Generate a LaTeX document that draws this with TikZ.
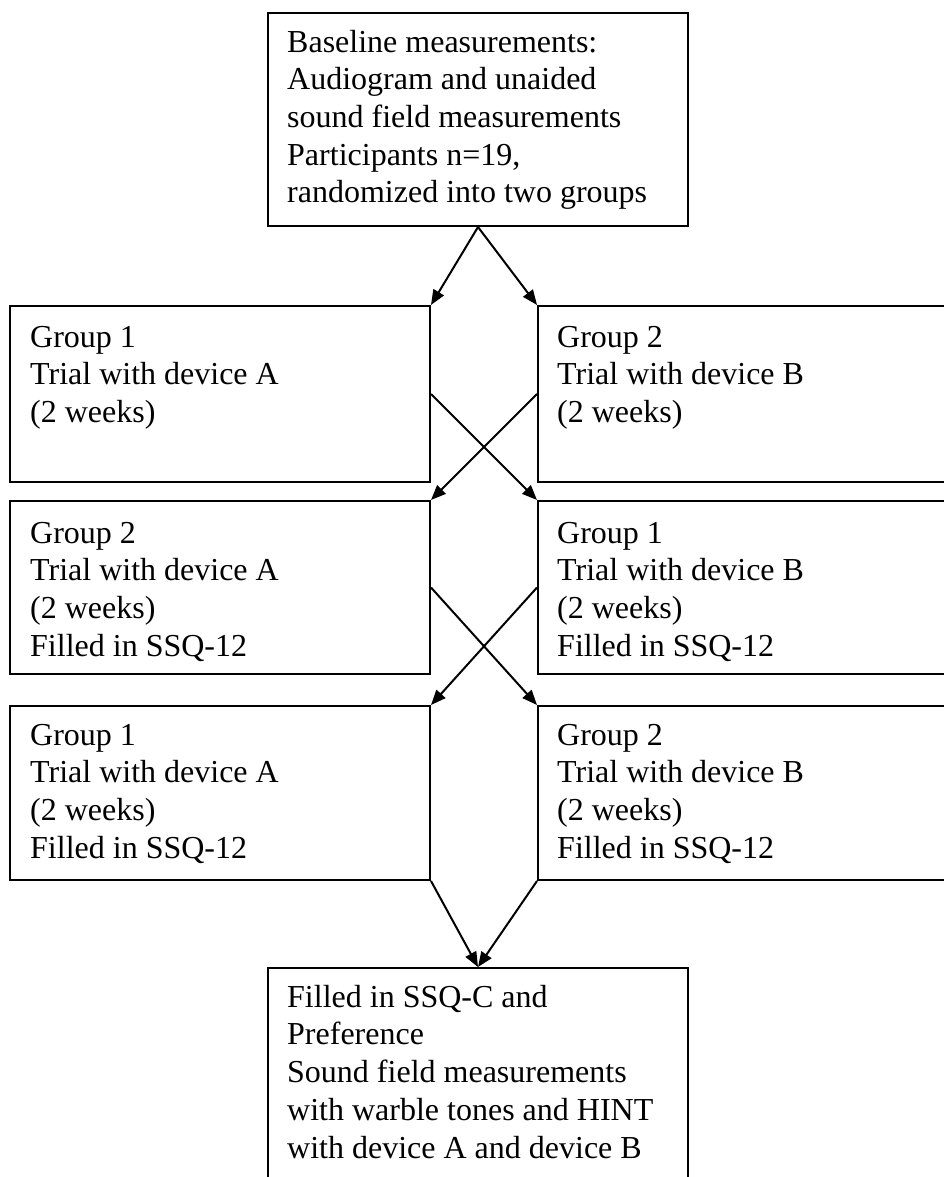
\documentclass[tikz,border=0pt]{standalone}
\usepackage{fontspec}
\setmainfont{Liberation Serif}
\usetikzlibrary{arrows.meta}
\begin{document}
\begin{tikzpicture}[x=1pt,y=-1pt,
  box/.style={draw=black, line width=2pt, rectangle, inner sep=0pt, anchor=north west},
  txt/.style={anchor=north west, inner sep=0pt, align=left, font=\fontsize{32}{37.7}\selectfont},
  arr/.style={draw=black, line width=2pt, -{Triangle[length=15pt,width=12pt]}}]
\fill[white] (0,0) rectangle (944,1177);
\useasboundingbox (0,0) rectangle (944,1177);
% boxes
\node[box, minimum width=420pt, minimum height=213pt] (top) at (267,12) {};
\node[box, minimum width=420pt, minimum height=176pt] (L1) at (9,305) {};
\node[box, minimum width=430pt, minimum height=176pt] (R1) at (537,305) {};
\node[box, minimum width=420pt, minimum height=173pt] (L2) at (9,500) {};
\node[box, minimum width=430pt, minimum height=173pt] (R2) at (537,500) {};
\node[box, minimum width=420pt, minimum height=174pt] (L3) at (9,705) {};
\node[box, minimum width=430pt, minimum height=174pt] (R3) at (537,705) {};
\node[box, minimum width=420pt, minimum height=230pt] (bot) at (267,967) {};
% texts
\node[txt] (ttop) at (287,25.6) {\strut Baseline measurements:\\Audiogram and unaided\\sound field measurements\\Participants n=19,\\randomized into two groups};
\node[txt] (tL1) at (30,320.6) {\strut Group 1\\Trial with device A\\(2 weeks)};
\node[txt] (tR1) at (557,320.6) {\strut Group 2\\Trial with device B\\(2 weeks)};
\node[txt] (tL2) at (30,516.6) {\strut Group 2\\Trial with device A\\(2 weeks)\\Filled in SSQ-12};
\node[txt] (tR2) at (557,516.6) {\strut Group 1\\Trial with device B\\(2 weeks)\\Filled in SSQ-12};
\node[txt] (tL3) at (30,718.6) {\strut Group 1\\Trial with device A\\(2 weeks)\\Filled in SSQ-12};
\node[txt] (tR3) at (557,718.6) {\strut Group 2\\Trial with device B\\(2 weeks)\\Filled in SSQ-12};
\node[txt] (tbot) at (287,980.6) {\strut Filled in SSQ-C and\\Preference\\Sound field measurements\\with warble tones and HINT\\with device A and device B};
% connectors
\draw[arr] (top.south) -- (L1.north east);
\draw[arr] (top.south) -- (R1.north west);
\draw[arr] (L1.east) -- (R2.north west);
\draw[arr] (R1.west) -- (L2.north east);
\draw[arr] (L2.east) -- (R3.north west);
\draw[arr] (R2.west) -- (L3.north east);
\draw[arr] (L3.south east) -- (bot.north);
\draw[arr] (R3.south west) -- (bot.north);
\end{tikzpicture}
\end{document}
